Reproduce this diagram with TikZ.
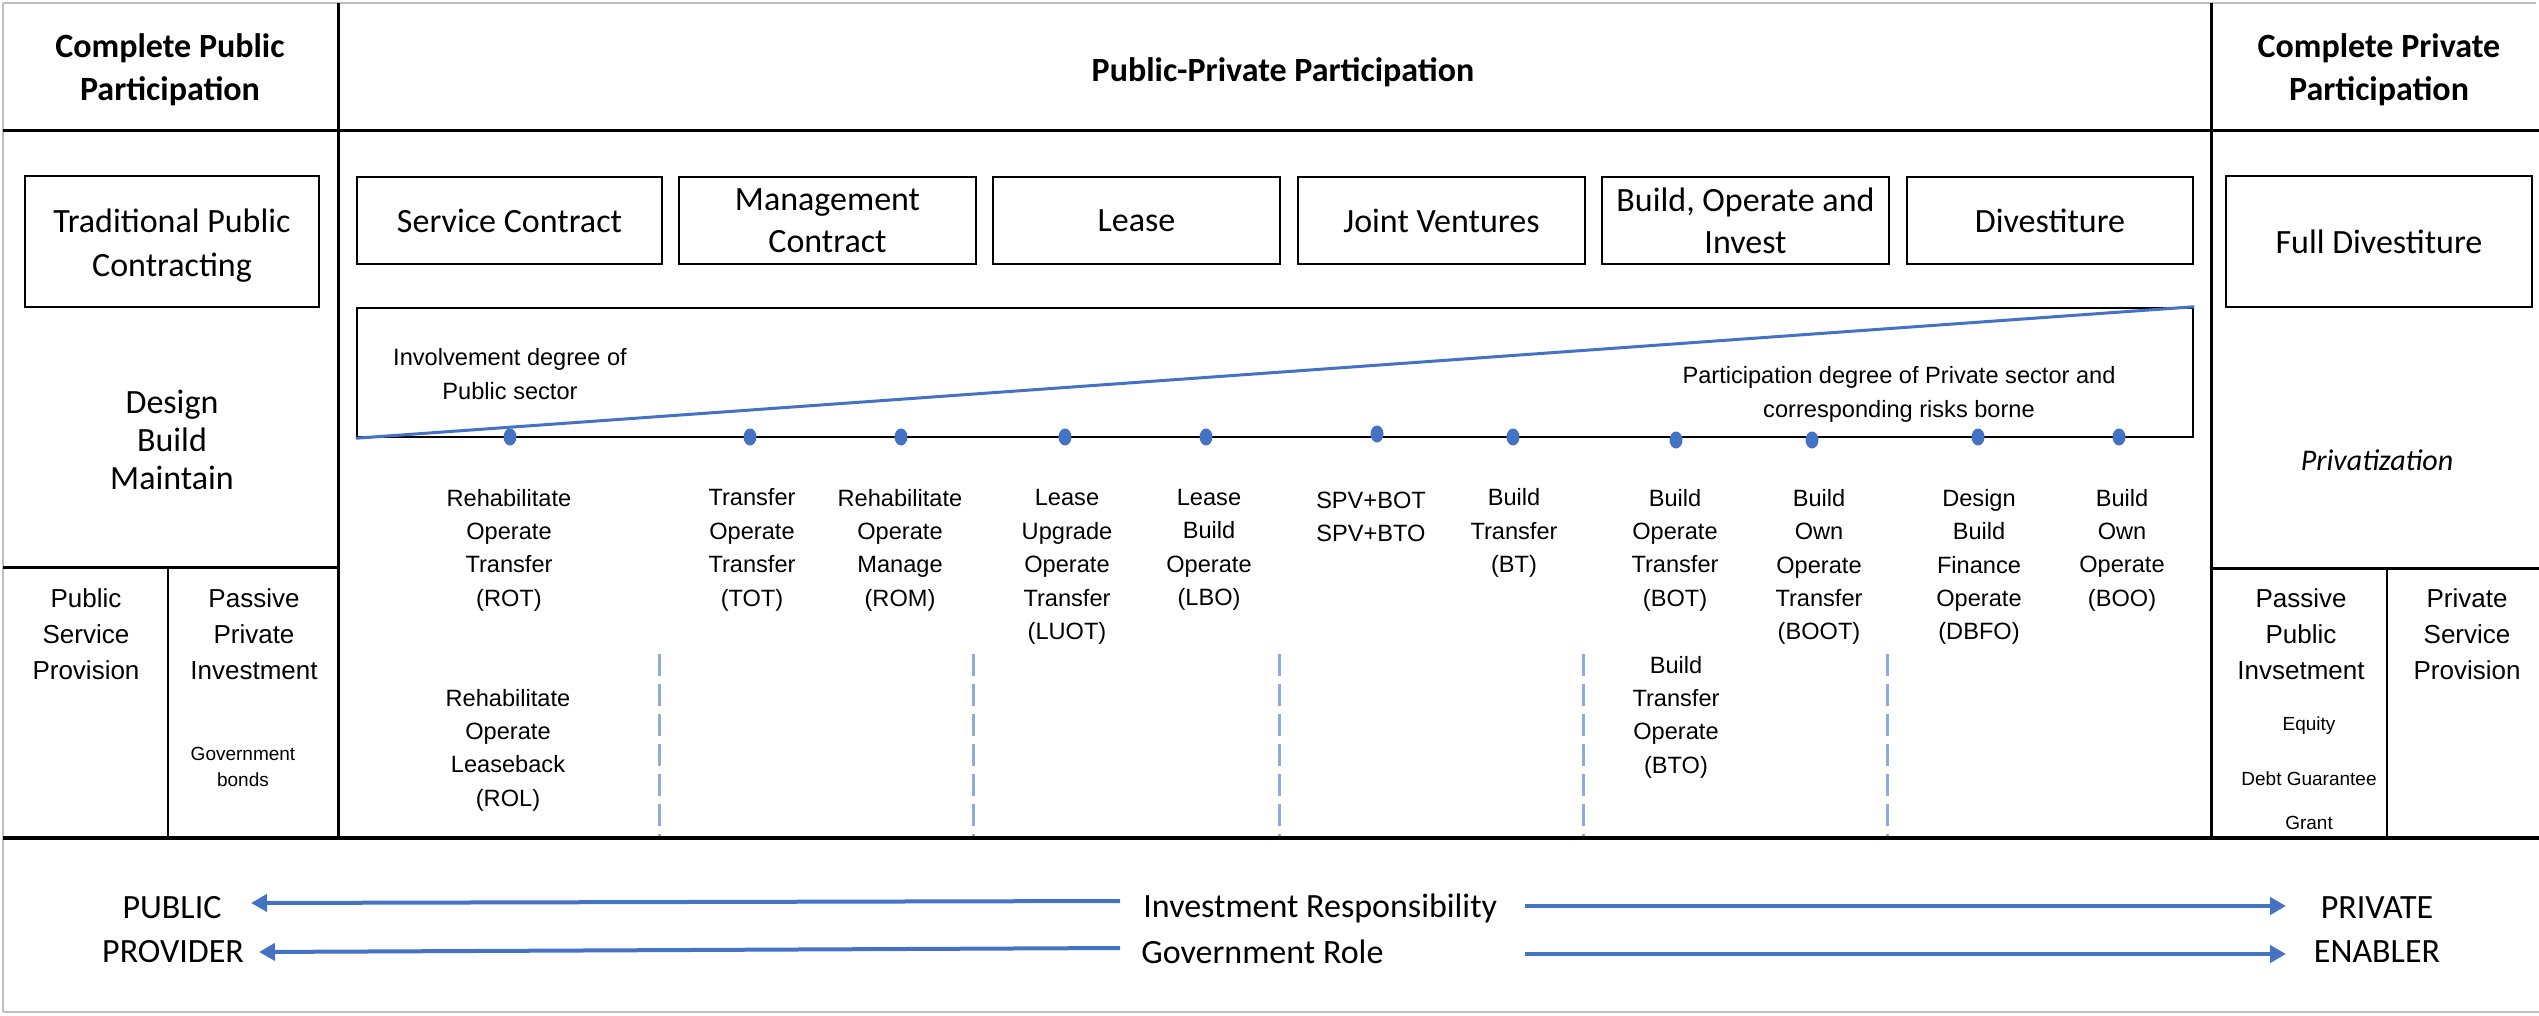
\documentclass[tikz,border=0pt]{standalone}
\usepackage{fontspec}
\setmainfont{Carlito}
\newfontfamily\arl{Liberation Sans}
\usetikzlibrary{arrows.meta,shapes.geometric}
\definecolor{ppblue}{HTML}{4472C4}
\definecolor{dashblue}{HTML}{8FAADC}
\definecolor{gridgray}{HTML}{BFBFBF}
\begin{document}
\begin{tikzpicture}[x=0.5pt,y=-0.5pt,
  rule/.style={line width=1.5pt, black},
  thinrule/.style={line width=1.1pt, black},
  gridline/.style={line width=1pt, gridgray},
  box/.style={draw, line width=1.25pt, align=center, inner sep=0pt, font=\fontsize{17}{21}\selectfont},
  head/.style={align=center, inner sep=0pt, font=\bfseries\fontsize{17}{21.5}\selectfont},
  cal/.style={align=center, inner sep=0pt, font=\fontsize{17}{19}\selectfont},
  lab/.style={align=center, inner sep=0pt, font=\arl\fontsize{11.8}{16.7}\selectfont},
  sub/.style={align=center, inner sep=0pt, font=\arl\fontsize{13}{18}\selectfont},
  small/.style={align=center, inner sep=0pt, font=\arl\fontsize{9.5}{13}\selectfont},
  dotn/.style={ellipse, fill=ppblue, draw=none, inner sep=0pt, minimum width=6.5pt, minimum height=8.5pt},
  vdash/.style={dashblue, line width=1.5pt, dash pattern=on 11pt off 4pt},
  arr/.style={ppblue, line width=2pt, -{Triangle[length=8pt,width=8.5pt]}}
]
\fill[white] (0,0) rectangle (2539,1016);
\useasboundingbox (0,0) rectangle (2539,1016);

% frame and table rules
\draw[gridline] (3,3) -- (2536,3);
\draw[gridline] (3,3) -- (3,1012);
\draw[gridline] (3,1012) -- (2539,1012);
\draw[rule] (3,131) -- (2539,131);
\draw[rule] (338,3) -- (338,838);
\draw[rule] (2211,3) -- (2211,838);
\draw[rule] (3,567) -- (338,567);
\draw[rule] (2211,568) -- (2539,568);
\draw[thinrule] (168,567) -- (168,838);
\draw[thinrule] (2387,568) -- (2387,838);

% dashed separators
\foreach \xx in {659,973,1279,1583,1887}{
  \draw[vdash] (\xx,654) -- (\xx,837);
}
\draw[line width=2pt] (3,838) -- (2539,838);

% headers
\node[head] (cpub) at (170,70) {Complete Public\\Participation};
\node[head] (ppp) at (1283,72) {Public-Private Participation};
\node[head] (cpri) at (2379,70) {Complete Private\\Participation};

% left column
\node[box, minimum width=147pt, minimum height=65.5pt] (trad) at (172,241.5) {};
\node[align=center, inner sep=0pt, font=\fontsize{17}{22}\selectfont] (tradt) at (172,246) {Traditional Public\\Contracting};
\node[cal] (dbm) at (172,440) {Design\\Build\\Maintain};
\node[sub] (psp) at (86,634) {Public\\Service\\Provision};
\node[sub] (ppi) at (254,634) {Passive\\Private\\Investment};
\node[small] (gb) at (243,767) {Government\\bonds};

% contract type boxes
\node[box, minimum width=152.5pt, minimum height=43.5pt] (sc) at (509.5,220.5) {Service Contract};
\node[box, minimum width=148.5pt, minimum height=43.5pt] (mc) at (827.5,220.5) {Management\\Contract};
\node[box, minimum width=143.5pt, minimum height=43.5pt] (ls) at (1136.5,220.5) {Lease};
\node[box, minimum width=143.5pt, minimum height=43.5pt] (jv) at (1441.5,220.5) {Joint Ventures};
\node[box, minimum width=143.5pt, minimum height=43.5pt] (boi) at (1745.5,220.5) {Build, Operate and\\Invest};
\node[box, minimum width=143pt, minimum height=43.5pt] (dv) at (2050,220.5) {Divestiture};

% degree box
\node[draw, line width=1.25pt, inner sep=0pt, minimum width=918pt, minimum height=64.5pt] (tri) at (1275,372.5) {};
\draw[ppblue, line width=1.5pt] (tri.south west) -- (tri.north east);
\node[lab] (inv) at (510,374) {Involvement degree of\\Public sector};
\node[lab] (par) at (1899,394.5) {Participation degree of Private sector and\\corresponding risks borne};

% dots
\node[dotn] (d1) at (510,437) {};
\node[dotn] (d2) at (750,437) {};
\node[dotn] (d3) at (901,437) {};
\node[dotn] (d4) at (1065,437) {};
\node[dotn] (d5) at (1206,437) {};
\node[dotn] (d6) at (1377,434) {};
\node[dotn] (d7) at (1513,437) {};
\node[dotn] (d8) at (1676,440) {};
\node[dotn] (d9) at (1812,440) {};
\node[dotn] (d10) at (1978,437) {};
\node[dotn] (d11) at (2119,437) {};

% model labels
\node[lab] (rot) at (509,550) {Rehabilitate\\Operate\\Transfer\\(ROT)};
\node[lab] (rol) at (508,750) {Rehabilitate\\Operate\\Leaseback\\(ROL)};
\node[lab] (tot) at (752,550) {Transfer\\Operate\\Transfer\\(TOT)};
\node[lab] (rom) at (900,550) {Rehabilitate\\Operate\\Manage\\(ROM)};
\node[lab] (luot) at (1067,567) {Lease\\Upgrade\\Operate\\Transfer\\(LUOT)};
\node[lab] (lbo) at (1209,550) {Lease\\Build\\Operate\\(LBO)};
\node[lab] (spv) at (1371,517) {SPV+BOT\\SPV+BTO};
\node[lab] (bt) at (1514,533) {Build\\Transfer\\(BT)};
\node[lab] (bot) at (1675,550) {Build\\Operate\\Transfer\\(BOT)};
\node[lab] (bto) at (1676,717) {Build\\Transfer\\Operate\\(BTO)};
\node[lab] (boot) at (1819,567) {Build\\Own\\Operate\\Transfer\\(BOOT)};
\node[lab] (dbfo) at (1979,567) {Design\\Build\\Finance\\Operate\\(DBFO)};
\node[lab] (boo) at (2122,550) {Build\\Own\\Operate\\(BOO)};

% right column
\node[box, minimum width=153pt, minimum height=65.5pt] (fdiv) at (2379,241.5) {Full Divestiture};
\node[align=center, inner sep=0pt, font=\itshape\fontsize{15}{18}\selectfont] (priv) at (2377,460) {Privatization};
\node[sub] (ppinv) at (2301,634) {Passive\\Public\\Invsetment};
\node[sub] (prsp) at (2467,634) {Private\\Service\\Provision};
\node[small] (eq) at (2309,726) {Equity};
\node[small] (dg) at (2309,779) {Debt Guarantee};
\node[small] (gt) at (2309,823) {Grant};

% bottom scale
\node[cal] (pub) at (172,908) {PUBLIC};
\node[cal] (prov) at (173,952) {PROVIDER};
\node[cal] (pri) at (2377,908) {PRIVATE};
\node[cal] (ena) at (2377,952) {ENABLER};
\node[cal, anchor=west] (ir) at (1143,908) {Investment Responsibility};
\node[cal, anchor=west] (grl) at (1141,952) {Government Role};

\coordinate (irL) at (1120,901);
\coordinate (irR) at (1525,906);
\coordinate (grL) at (1120,948);
\coordinate (grR) at (1525,954);
\coordinate (pubT) at (251,903);
\coordinate (priT) at (2286,906);
\coordinate (provT) at (259,952);
\coordinate (enaT) at (2286,954);
\draw[arr] (irL) -- (pubT);
\draw[arr] (irR) -- (priT);
\draw[arr] (grL) -- (provT);
\draw[arr] (grR) -- (enaT);
\end{tikzpicture}
\end{document}
